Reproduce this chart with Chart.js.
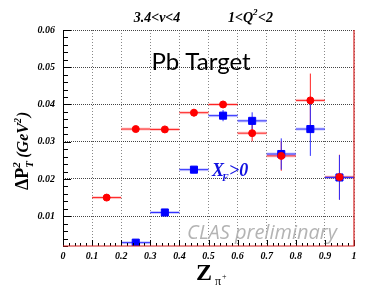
<!DOCTYPE html>
<html>
<head>
<meta charset="utf-8">
<script src="https://cdn.jsdelivr.net/npm/chart.js@4"></script>
<style>
  html, body { margin: 0; padding: 0; background: #fff; }
</style>
</head>
<body>
<canvas id="chart" width="376" height="291"></canvas>
<script>
// bin centers in z
const binCenters = [0.15, 0.25, 0.35, 0.45, 0.55, 0.65, 0.75, 0.85, 0.95];
const binHalfWidth = 0.05;

// red circles (all x_F)
const redValues = [0.0150, 0.0334, 0.0333, 0.0378, 0.0400, 0.0323, 0.0262, 0.0411, 0.0205];
const redErrors = [0.0003, 0.0004, 0.0004, 0.0010, 0.0009, 0.0022, 0.0040, 0.0072, 0.0060];

// blue squares (x_F > 0), no point in the first bin
const blueCenters = [0.25, 0.35, 0.45, 0.55, 0.65, 0.75, 0.85, 0.95];
const blueValues = [0.0029, 0.0110, 0.0225, 0.0370, 0.0356, 0.0267, 0.0334, 0.0204];
const blueErrors = [0.0003, 0.0004, 0.0003, 0.0015, 0.0023, 0.0042, 0.0072, 0.0060];

const yTicks = [0.01, 0.02, 0.03, 0.04, 0.05, 0.06];
const xTicks = [0, 0.1, 0.2, 0.3, 0.4, 0.5, 0.6, 0.7, 0.8, 0.9, 1];

const tickFont = { family: 'Liberation Serif', size: 10, style: 'italic', weight: 'bold' };

// error bars + systematic bands, drawn from the data through the scales
const errorBars = {
  id: 'errorBars',
  beforeDatasetsDraw(chart) {
    const { ctx, scales: { x, y } } = chart;
    chart.data.datasets.forEach(ds => {
      ctx.save();
      ds.data.forEach(p => {
        const px = x.getPixelForValue(p.x);
        const py = y.getPixelForValue(p.y);
        const x0 = x.getPixelForValue(p.x - binHalfWidth);
        const x1 = x.getPixelForValue(p.x + binHalfWidth);
        // light band
        ctx.strokeStyle = ds.bandColor;
        ctx.lineWidth = 3;
        ctx.beginPath();
        ctx.moveTo(x0, py); ctx.lineTo(x1, py);
        ctx.stroke();
        // bars
        ctx.strokeStyle = ds.barColor;
        ctx.lineWidth = 1;
        ctx.beginPath();
        ctx.moveTo(x0, py); ctx.lineTo(x1, py);
        ctx.moveTo(px, y.getPixelForValue(p.y - p.err));
        ctx.lineTo(px, y.getPixelForValue(p.y + p.err));
        ctx.stroke();
      });
      ctx.restore();
    });
  }
};

// frame, minor ticks and all the extra labels
const decorations = {
  id: 'decorations',
  afterDraw(chart) {
    const { ctx, chartArea: a, scales: { x, y } } = chart;
    ctx.save();
    // minor ticks on y
    ctx.strokeStyle = '#000';
    ctx.lineWidth = 1;
    ctx.beginPath();
    for (let v = 0.002; v <= 0.0601; v += 0.002) {
      const py = Math.round(y.getPixelForValue(v)) + 0.5;
      const major = Math.abs(v * 100 - Math.round(v * 100)) < 1e-6;
      ctx.moveTo(a.left, py);
      ctx.lineTo(a.left + (major ? 8 : 5), py);
    }
    // minor ticks on x
    for (let v = 0; v <= 1.0001; v += 0.02) {
      const px = Math.round(x.getPixelForValue(v)) + 0.5;
      const major = Math.abs(v * 10 - Math.round(v * 10)) < 1e-6;
      ctx.moveTo(px, a.bottom);
      ctx.lineTo(px, a.bottom - (major ? 6 : 3));
    }
    ctx.stroke();
    // left axis black, bottom + right red
    ctx.beginPath();
    ctx.moveTo(a.left + 0.5, a.top); ctx.lineTo(a.left + 0.5, a.bottom);
    ctx.stroke();
    ctx.strokeStyle = '#d42020';
    ctx.lineWidth = 1.2;
    ctx.beginPath();
    ctx.moveTo(a.left, a.bottom); ctx.lineTo(a.right, a.bottom);
    ctx.lineTo(a.right, a.top);
    ctx.stroke();

    // texts
    ctx.fillStyle = '#000';
    ctx.textAlign = 'center';
    ctx.textBaseline = 'alphabetic';
    ctx.font = "24px Lato";
    ctx.fillText('Pb Target', 201, 70);

    ctx.font = "italic bold 14px 'Liberation Serif'";
    ctx.fillText('3.4<ν<4', 157, 22);
    ctx.textAlign = 'left';
    let tx = 228;
    ctx.fillText('1<Q', tx, 22);
    tx += ctx.measureText('1<Q').width;
    ctx.font = "italic bold 9px 'Liberation Serif'";
    ctx.fillText('2', tx, 15);
    tx += 5;
    ctx.font = "italic bold 14px 'Liberation Serif'";
    ctx.fillText('<2', tx, 22);

    // CLAS preliminary
    ctx.fillStyle = '#b4b4b4';
    ctx.font = "italic 20px 'Open Sans'";
    ctx.textAlign = 'center';
    ctx.fillText('CLAS preliminary', 262, 239);

    // X_F>0 label
    ctx.fillStyle = '#1010e0';
    ctx.textAlign = 'left';
    tx = 212;
    ctx.font = "italic bold 18px 'Liberation Serif'";
    ctx.fillText('X', tx, 176);
    tx += ctx.measureText('X').width;
    ctx.font = "italic bold 10px 'Liberation Serif'";
    ctx.fillText('F', tx - 2, 181);
    tx += 5;
    ctx.font = "italic bold 18px 'Liberation Serif'";
    ctx.fillText('>0', tx, 176);

    // x title
    ctx.fillStyle = '#000';
    ctx.font = "bold 24px 'Liberation Serif'";
    ctx.fillText('Z', 196, 280);
    ctx.font = "12px 'Liberation Serif'";
    ctx.fillText('π', 215, 285);
    ctx.font = "8px 'Liberation Serif'";
    ctx.fillText('+', 222, 279);

    // y title
    ctx.translate(28, 140);
    ctx.rotate(-Math.PI / 2);
    ctx.textAlign = 'left';
    let cx = -50;
    ctx.font = "bold 18px 'Liberation Serif'";
    ctx.fillText('ΔP', cx, 0);
    cx += ctx.measureText('ΔP').width;
    ctx.font = "italic bold 11px 'Liberation Serif'";
    ctx.fillText('2', cx, -8);
    ctx.fillText('T', cx, 5);
    cx += 10;
    ctx.font = "italic bold 16px 'Liberation Serif'";
    ctx.fillText('(GeV', cx, 0);
    cx += ctx.measureText('(GeV').width;
    ctx.font = "italic bold 10px 'Liberation Serif'";
    ctx.fillText('2', cx, -7);
    cx += 6;
    ctx.font = "italic bold 16px 'Liberation Serif'";
    ctx.fillText(')', cx, 0);
    ctx.restore();
  }
};

new Chart(document.getElementById('chart'), {
  type: 'scatter',
  data: {
    datasets: [
      {
        label: 'all',
        data: binCenters.map((c, i) => ({ x: c, y: redValues[i], err: redErrors[i] })),
        pointStyle: 'circle',
        pointRadius: 3.5,
        backgroundColor: '#ff0000',
        borderColor: '#ff0000',
        barColor: '#ff2020',
        bandColor: 'rgba(255,90,90,0.3)'
      },
      {
        label: 'X_F>0',
        data: blueCenters.map((c, i) => ({ x: c, y: blueValues[i], err: blueErrors[i] })),
        pointStyle: 'rect',
        pointRadius: 5,
        backgroundColor: '#0000ff',
        borderColor: '#0000ff',
        barColor: '#3030ff',
        bandColor: 'rgba(90,90,255,0.3)'
      }
    ]
  },
  options: {
    responsive: false,
    animation: false,
    devicePixelRatio: 1,
    layout: { padding: { left: 0, right: 22, top: 30, bottom: 0 } },
    plugins: { legend: { display: false }, tooltip: { enabled: false } },
    scales: {
      x: {
        type: 'linear',
        min: 0,
        max: 1,
        afterBuildTicks: s => { s.ticks = xTicks.map(v => ({ value: v })); },
        afterFit: s => { s.height = 45; },
        grid: { color: '#888', drawTicks: false },
        border: { display: false, dash: [1, 2] },
        ticks: {
          padding: 4,
          maxRotation: 0,
          color: '#000',
          font: tickFont,
          callback: v => (v === 0 || v === 1) ? String(v) : v.toFixed(1)
        }
      },
      y: {
        type: 'linear',
        min: 0.002,
        max: 0.06,
        afterBuildTicks: s => { s.ticks = yTicks.map(v => ({ value: v })); },
        afterFit: s => { s.width = 63; },
        grid: { color: '#444', drawTicks: false },
        border: { display: false, dash: [1, 1] },
        ticks: {
          padding: 8,
          color: '#000',
          font: tickFont,
          callback: v => v.toFixed(2)
        }
      }
    }
  },
  plugins: [errorBars, decorations]
});
</script>
</body>
</html>
